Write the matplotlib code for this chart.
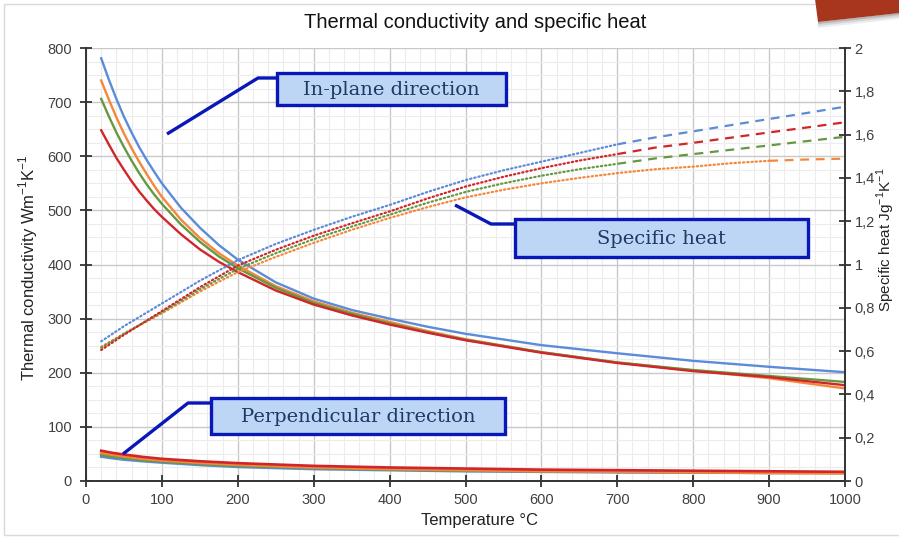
import matplotlib
matplotlib.use("Agg")
import matplotlib.pyplot as plt
from matplotlib.patches import Polygon, Rectangle
from matplotlib.ticker import MultipleLocator, FuncFormatter

plt.rcParams['font.family'] = ['Liberation Sans', 'DejaVu Sans']
plt.rcParams['mathtext.fontset'] = 'custom'
plt.rcParams['mathtext.rm'] = 'Liberation Sans'

# ---------------- data ----------------
series_names = ["blue", "orange", "green", "red"]

# In-plane thermal conductivity (W m-1 K-1)
inplane_T = [20, 30, 40, 50, 60, 70, 80, 90, 100, 125, 150, 175, 200, 250, 300, 350, 400,
             450, 500, 600, 700, 800, 900, 1000]
inplane_blue = [781, 742, 706, 673, 644, 617, 593, 571, 550, 505, 468, 436, 409, 367, 337, 316, 300,
                285, 272, 251, 236, 222, 211, 201]
inplane_orange = [740, 705, 672, 642, 615, 590, 567, 545, 525, 483, 449, 421, 398, 360, 332, 311, 294,
                  277, 262, 238, 219, 204, 190, 171]
inplane_green = [706, 674, 644, 617, 592, 569, 548, 529, 512, 474, 442, 415, 393, 357, 329, 309, 291,
                 275, 261, 238, 219, 205, 194, 183]
inplane_red = [648, 622, 597, 575, 554, 535, 518, 502, 488, 456, 428, 405, 386, 352, 326, 306, 289,
               274, 260, 237, 218, 203, 192, 177]

# Perpendicular thermal conductivity (W m-1 K-1)
perp_T = [20, 35, 50, 75, 100, 150, 200, 300, 400, 500, 600, 700, 800, 900, 1000]
perp_blue = [45, 42, 39.5, 36.5, 34, 29.5, 26, 22, 20, 18, 17, 16, 15.5, 15, 15]
perp_orange = [52, 48.5, 45.5, 41, 38, 33.5, 30, 25, 22, 20, 18, 17, 16, 15, 14]
perp_green = [48, 45, 42.5, 38.5, 36, 31.5, 28, 24, 21, 19, 18, 17, 16, 15, 15]
perp_red = [56, 52, 49, 44.5, 41, 36.5, 33, 28, 25, 23, 21, 20, 19, 18, 17]

# Specific heat (J g-1 K-1)
cp_T = [20, 50, 100, 150, 200, 250, 300, 350, 400, 450, 500, 550, 600, 650, 700, 750, 800,
        850, 900, 950, 1000]
cp_blue = [0.645, 0.715, 0.82, 0.925, 1.02, 1.095, 1.16, 1.22, 1.275, 1.335, 1.39, 1.435, 1.475,
           1.515, 1.555, 1.587, 1.615, 1.644, 1.672, 1.70, 1.729]
cp_orange = [0.62, 0.68, 0.775, 0.875, 0.965, 1.035, 1.10, 1.16, 1.215, 1.265, 1.31, 1.345, 1.375,
             1.40, 1.422, 1.44, 1.452, 1.468, 1.479, 1.485, 1.489]
cp_green = [0.615, 0.68, 0.78, 0.885, 0.98, 1.052, 1.117, 1.175, 1.23, 1.285, 1.335, 1.375, 1.41,
            1.44, 1.465, 1.49, 1.51, 1.53, 1.55, 1.57, 1.59]
cp_red = [0.605, 0.675, 0.785, 0.895, 0.995, 1.068, 1.133, 1.19, 1.245, 1.305, 1.36, 1.405, 1.445,
          1.48, 1.51, 1.54, 1.562, 1.586, 1.61, 1.633, 1.657]
cp_measured_until = [700, 900, 700, 700]  # dotted up to here, dashed after

x_ticks = [0, 100, 200, 300, 400, 500, 600, 700, 800, 900, 1000]
left_ticks = [0, 100, 200, 300, 400, 500, 600, 700, 800]
right_ticks = [0, 0.2, 0.4, 0.6, 0.8, 1.0, 1.2, 1.4, 1.6, 1.8, 2.0]

colors = {"blue": "#5B8BD9", "orange": "#F5873C", "green": "#64993F", "red": "#D0262B"}

inplane = {"blue": inplane_blue, "orange": inplane_orange, "green": inplane_green, "red": inplane_red}
perp = {"blue": perp_blue, "orange": perp_orange, "green": perp_green, "red": perp_red}
cp = {"blue": cp_blue, "orange": cp_orange, "green": cp_green, "red": cp_red}

# ---------------- figure ----------------
W, H = 899, 538
fig = plt.figure(figsize=(W / 100, H / 100), dpi=100)

def fx(px):
    return px / W

def fy(py):
    return 1 - py / H

ax_l, ax_r, ax_t, ax_b = 86, 845, 48, 481
ax = fig.add_axes([fx(ax_l), fy(ax_b), fx(ax_r) - fx(ax_l), fy(ax_t) - fy(ax_b)])
ax2 = ax.twinx()

ax.set_xlim(0, 1000)
ax.set_ylim(0, 800)
ax2.set_ylim(0, 2)

# grid
ax.xaxis.set_minor_locator(MultipleLocator(20))
ax.yaxis.set_minor_locator(MultipleLocator(25))
ax.set_xticks(x_ticks)
ax.set_yticks(left_ticks)
ax2.set_yticks(right_ticks)
ax.grid(which='major', color='#c9c9c9', lw=1.0, zorder=0)
ax.grid(which='minor', color='#ececec', lw=0.8, zorder=0)
ax.set_axisbelow(True)

ax.spines["top"].set_visible(False)
ax2.spines["top"].set_visible(False)
ax2.spines["left"].set_visible(False)
ax2.spines["bottom"].set_visible(False)
ax.spines["right"].set_visible(False)
for sp in [ax.spines["left"], ax.spines["bottom"], ax2.spines["right"]]:
    sp.set_color('#333333')
    sp.set_linewidth(1.4)

ax.tick_params(axis='both', which='major', direction='inout', length=8, width=1.3,
               color='#333333', labelsize=10.5, labelcolor='#404040')
ax.tick_params(axis='y', pad=6)
ax.tick_params(axis='x', pad=5)
ax.tick_params(which='minor', length=0)
ax2.tick_params(axis='y', which='major', direction='inout', length=8, width=1.3,
                color='#333333', labelsize=10.5, labelcolor='#404040', pad=3)
ax2.yaxis.set_major_formatter(FuncFormatter(lambda v, p: ('%g' % round(v, 1)).replace('.', ',')))

# in-plane and perpendicular lines
for name in series_names:
    ax.plot(inplane_T, inplane[name], color=colors[name], lw=1.7, zorder=3)
for name in ["blue", "green", "orange", "red"]:
    ax.plot(perp_T, perp[name], color=colors[name], lw=1.9, zorder=3)

# specific heat: dotted (measured) then dashed (extrapolated)
for name, lim in zip(series_names, cp_measured_until):
    xs, ys = cp_T, cp[name]
    x1 = [x for x in xs if x <= lim]
    y1 = [y for x, y in zip(xs, ys) if x <= lim]
    x2 = [x for x in xs if x >= lim]
    y2 = [y for x, y in zip(xs, ys) if x >= lim]
    ax2.plot(x1, y1, color=colors[name], lw=1.6, ls=(0, (0.6, 1.3)), dash_capstyle='round', zorder=3)
    ax2.plot(x2, y2, color=colors[name], lw=1.6, ls=(0, (4, 3)), zorder=3)

# ---------------- texts ----------------
fig.text(fx(475), fy(22), "Thermal conductivity and specific heat", ha='center', va='center',
         fontsize=14.5, color='#111111')
fig.text(fx(479), fy(521), "Temperature °C", ha='center', va='center', fontsize=12, color='#222222')
fig.text(fx(28), fy(268), r"Thermal conductivity Wm$^{\mathregular{-1}}$K$^{\mathregular{-1}}$",
         ha='center', va='center', rotation=90, fontsize=12, color='#222222')
fig.text(fx(897), fy(240), r"Specific heat Jg$^{\mathregular{-1}}$K$^{\mathregular{-1}}$",
         ha='right', va='center', rotation=90, fontsize=11, color='#222222')

# ---------------- annotation boxes ----------------
box_fill = '#BDD6F6'
box_edge = '#0A17B8'
text_col = '#1F3864'

def box(x0, y0, x1, y1, label):
    fig.patches.append(Rectangle((fx(x0), fy(y1)), fx(x1) - fx(x0), fy(y0) - fy(y1),
                                 transform=fig.transFigure, facecolor=box_fill,
                                 edgecolor=box_edge, lw=2.4, zorder=5))
    fig.text(fx((x0 + x1) / 2), fy((y0 + y1) / 2 + 1), label, ha='center', va='center',
             family='DejaVu Serif', fontsize=14, color=text_col, zorder=6)

def leader(pts):
    fig.lines.append(plt.Line2D([fx(p[0]) for p in pts], [fy(p[1]) for p in pts],
                                transform=fig.transFigure, color=box_edge, lw=2.4, zorder=5,
                                solid_capstyle='butt'))

leader([(277, 78), (258, 78), (167, 134)])
box(277, 73, 506, 105, "In-plane direction")
leader([(515, 224), (491, 224), (455, 205)])
box(515, 219, 808, 257, "Specific heat")
leader([(212, 403), (188, 403), (123, 454)])
box(211, 398, 505, 434, "Perpendicular direction")

# ---------------- frame & decoration ----------------
fig.patches.append(Rectangle((fx(4), fy(535)), fx(905) - fx(4), fy(4) - fy(535),
                             transform=fig.transFigure, facecolor='none',
                             edgecolor='#dadada', lw=1.0, zorder=1))
for k, a in [(6, 0.10), (4, 0.15), (2, 0.25)]:
    fig.patches.append(Polygon([(fx(818), fy(22 + k)), (fx(899), fy(13 + k)),
                                (fx(899), fy(13)), (fx(818), fy(22))],
                               closed=True, transform=fig.transFigure,
                               facecolor='#555555', alpha=a, edgecolor='none', zorder=7))
fig.patches.append(Polygon([(fx(815), fy(-1)), (fx(900), fy(-1)), (fx(900), fy(13)), (fx(818), fy(22))],
                           closed=True, transform=fig.transFigure, facecolor='#A8361C',
                           edgecolor='none', zorder=8))

fig.savefig("out.png", dpi=100)
